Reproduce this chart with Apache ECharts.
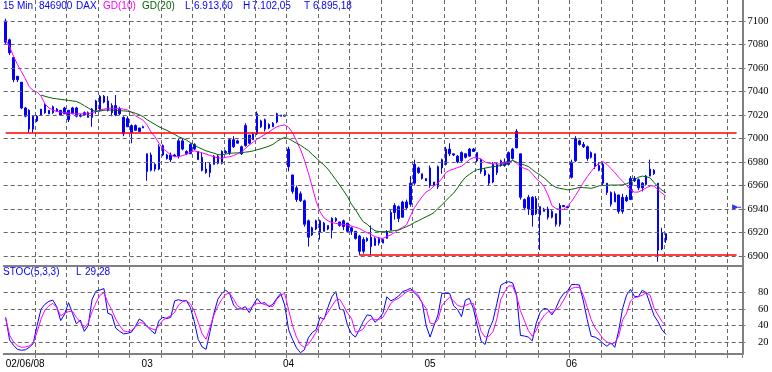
<!DOCTYPE html>
<html>
<head>
<meta charset="utf-8">
<script src="https://cdn.jsdelivr.net/npm/echarts@6/dist/echarts.min.js"></script>
<style>
html,body{margin:0;padding:0;background:#fff;}
#chart{width:772px;height:372px;}
</style>
</head>
<body>
<div id="chart"></div>
<script>
// ---- data ----
const slotCount = 188; // 15-min slots shown on the time axis (incl. empty space at right)
const dayStartIndex = [0, 36, 72, 108, 144];
const dayLabels = ['02/06/08', '03', '04', '05', '06'];

const openVals = [7100,7084,7069,7050,7048,7026,7024,7008,7019,7020,
7022,7024,7022,7025,7024,7021,7024,7021,7026,7020,
7020,7022,7018,7024,7024,7036,7032,7022,7028,7021,
7018,7010,7011,7007,7009,7009,6987,6973,6978,6974,
6994,6986,6982,6986,6985,6998,6989,6987,6995,6989,
6984,6974,6971,6978,6985,6979,6989,6988,6999,6996,
6993,6994,7003,6999,7004,7015,7008,7012,7010,7014,
7019,7020,6991,6969,6958,6947,6947,6930,6918,6923,
6930,6921,6926,6922,6932,6929,6925,6928,6921,6921,
6917,6904,6913,6916,6909,6915,6911,6915,6922,6937,
6942,6933,6946,6944,6962,6975,6970,6966,6960,6963,
6959,6975,6978,6991,6987,6985,6981,6987,6985,6991,
6988,6982,6973,6969,6963,6978,6977,6980,6978,6983,
6992,6987,6948,6940,6950,6936,6942,6938,6940,6933,
6936,6927,6942,6942,6967,6981,6998,6995,6993,6984,
6987,6977,6978,6962,6954,6946,6952,6938,6950,6948,
6966,6965,6958,6961,6968,6970,6962,6906,6919];

const closeVals = [7082,7073,7050,7053,7026,7019,7008,7019,7015,7025,
7029,7021,7027,7023,7020,7026,7016,7026,7019,7019,
7022,7018,7025,7032,7036,7031,7024,7028,7020,7025,
7004,7017,7005,7011,7006,7010,6972,6986,6974,6993,
6986,6983,6986,6985,6998,6991,6987,6995,6991,6982,
6973,6971,6978,6985,6979,6989,6988,6999,6993,6998,
6987,7011,6996,7004,7021,7010,7016,7009,7013,7021,
7020,7019,6976,6955,6948,6953,6927,6916,6924,6930,
6920,6928,6923,6932,6930,6926,6930,6921,6924,6915,
6904,6914,6915,6908,6915,6911,6914,6921,6937,6943,
6932,6946,6941,6962,6978,6971,6966,6964,6975,6960,
6976,6982,6991,6987,6986,6980,6988,6984,6991,6989,
6981,6972,6969,6962,6978,6971,6981,6977,6988,6991,
7006,6950,6941,6950,6935,6949,6935,6940,6933,6938,
6927,6943,6943,6941,6980,7000,6995,6993,6983,6988,
6976,6973,6962,6954,6944,6953,6938,6950,6947,6966,
6964,6958,6962,6968,6974,6973,6905,6920,6913.6];

const lowVals = [7080,7071,7048,7048,7025,7018,7005,7005,7014,7020,
7021,7021,7021,7023,7020,7021,7014,7021,7018,7018,
7020,7018,7010,7021,7023,7030,7023,7019,7019,7020,
7002,7010,6996,7007,7006,7009,6964,6972,6972,6973,
6985,6982,6980,6985,6983,6990,6986,6987,6990,6982,
6972,6970,6967,6978,6978,6978,6987,6986,6992,6996,
6986,6993,6995,6999,7003,7009,7006,7008,7010,7013,
7019,7019,6972,6953,6946,6946,6925,6908,6917,6922,
6914,6921,6922,6915,6929,6925,6922,6920,6918,6914,
6901,6902,6912,6901,6909,6909,6911,6915,6922,6931,
6929,6933,6939,6942,6960,6970,6965,6964,6958,6959,
6957,6970,6977,6985,6985,6979,6980,6983,6985,6989,
6980,6970,6968,6960,6962,6969,6976,6976,6977,6982,
6992,6948,6939,6935,6925,6935,6905,6938,6931,6932,
6925,6925,6942,6941,6966,6980,6994,6992,6981,6983,
6974,6972,6960,6952,6942,6946,6936,6936,6946,6948,
6963,6956,6955,6960,6968,6969,6895.18,6905,6911];

const highVals = [7102.05,7085,7069,7053,7048,7027,7025,7020,7020,7025,
7030,7024,7028,7026,7024,7027,7024,7027,7027,7021,
7023,7023,7026,7033,7037,7037,7036,7030,7037,7027,
7019,7019,7012,7012,7009,7011,6987,6988,6979,6995,
6995,6987,6988,6987,7000,7000,6990,6996,6996,6989,
6988,6980,6980,6986,6986,6990,6990,7000,7002,6999,
6994,7013,7003,7005,7023,7016,7017,7013,7014,7022,
7020,7020,6993,6969,6960,6955,6948,6931,6925,6931,
6931,6929,6926,6933,6933,6929,6931,6928,6925,6921,
6918,6916,6916,6926,6916,6916,6915,6922,6939,6945,
6943,6947,6948,6968,6982,6976,6970,6966,6977,6963,
6977,6983,6993,6996,6987,6986,6989,6987,6992,6992,
6988,6983,6975,6970,6980,6980,6982,6983,6989,6992,
7008,6987,6949,6952,6951,6951,6942,6941,6942,6939,
6936,6945,6943,6942,6982,7002,6999,6997,6994,6989,
6987,6980,6980,6962,6955,6955,6952,6953,6952,6968,
6968,6966,6963,6969,6982,6974,6962,6924,6919];

const gd10 = [7084,7078,7070,7063,7057,7051,7044,7041,7039.5,7036,
7029.5,7026,7024.3,7023,7022.5,7022,7021.7,7021.3,7021,7021,
7021,7021,7022,7023,7024.3,7025,7025.7,7025.7,7025.7,7025.7,
7025,7024.3,7022.5,7019.5,7017.5,7015.5,7011.5,7005.5,7001.5,6996,
6991.5,6988.8,6986,6984.5,6984.5,6985.5,6986.5,6988.5,6989.4,6988.8,
6987.8,6986.8,6985.5,6984.5,6983.5,6983.2,6984,6984.5,6985.5,6987,
6988.5,6991.5,6994.5,6997,6999.5,7001.5,7003.5,7005.5,7008,7010,
7011,7011.5,7009.5,7005,6998,6991,6982,6971,6959,6946.5,
6937.7,6932.5,6930,6928.5,6927.8,6927.2,6926.8,6926.4,6925.5,6924.5,
6923.5,6921.5,6919.8,6918.3,6916.5,6915.5,6915,6916.5,6918,6920,
6922.5,6924.5,6926.4,6934,6941,6946,6950.5,6954.5,6956.5,6959.5,
6962,6966,6971,6973,6974,6975.3,6976.3,6979,6982,6983.7,
6983.6,6982.6,6980,6979,6978.5,6978.3,6978.5,6979,6980,6981.5,
6979,6976,6974.5,6973.5,6970,6966,6963,6959,6952,6943,
6940.5,6939.7,6939.7,6942.5,6946.5,6951.5,6957,6962.5,6967.5,6972,
6976,6978.9,6980.3,6978,6974.5,6971,6967,6963.5,6960,6956.5,
6954.3,6954.5,6956,6958,6959.6,6959.6,6956.5,6953.5,6951];

const gd20 = [null,null,null,null,null,null,null,null,null,7037,
7036,7035,7034.2,7033.8,7033.3,7032.9,7032.5,7032,7031.5,7030,
7028,7026,7024,7023,7023.4,7024,7024.3,7024.2,7024,7023.8,
7023.5,7023.2,7022.5,7021.5,7020.3,7018.5,7016,7014,7012,7010,
7008.5,7007,7005.2,7003.5,7001.5,7000.2,6998.7,6996.5,6994.5,6992.5,
6991,6989.5,6988.5,6987.5,6986.3,6986.2,6986.8,6987.4,6987.6,6987.8,
6988,6988.4,6988.8,6989.5,6990.5,6991.3,6992.4,6993.5,6995,6997.5,
6999.5,7001,6999.8,6998,6996,6994.3,6992,6989.8,6986.5,6983.5,
6980.3,6977.5,6974,6969.5,6965,6960.4,6955.5,6950.5,6944,6939.5,
6934,6929.2,6927,6923.8,6921.5,6920.7,6920.7,6920.8,6921.2,6921.7,
6922.1,6923.5,6925,6926.5,6928.5,6930,6931.8,6933.4,6935,6937,
6940.5,6943.5,6947,6950.5,6953.5,6958,6963,6967,6969.5,6971.8,
6973.5,6974.2,6974.8,6975.5,6976,6976.4,6977,6978,6979.5,6981.3,
6980,6978.5,6977.5,6976.2,6973.5,6971,6969,6966.5,6963.5,6960.5,
6958.5,6957.6,6957,6956.3,6956.8,6957.5,6958.4,6958.2,6958,6957.6,
6958.5,6959.8,6960,6960.2,6960.4,6960.4,6960.4,6960.6,6961.5,6963,
6965,6967,6968,6967.5,6966.5,6962.5,6959,6956,6954];

const stochK = [50,22.5,16,11,10,10.5,13.5,18,40,60,
66,69.5,71,63,46,54,67.9,55,42,46.8,
33,40,72,82,83.3,85,55,53,37,33,
30,30.5,32,39,48,45,39,34,30,46,
50,48.5,50,70,71.5,70,70.5,62,45,23,
14,11.1,32.6,55,72,79.2,83,79,65,60,
60.5,63,55.7,65,73,67,67.9,63,66,73.1,
79,65,35,23,13,7,10.5,25,31.5,35,
50,47.5,62,75,81.3,60,59,40,30,26,
35,45,53,52,44,48.5,55,75,70,72.5,
76,81.3,83,85.3,80,75,68,40,26,40,
52.9,79.2,79.2,79.2,64,59.5,50.8,71,73.1,61,
40,21,17,35,46,67,89,92,93.4,92,
78,28,27.3,26,21.5,42.7,56,61,59.8,53,
61,72,79,82,90,90,89.4,70,47,27,
26,23,18.4,14.8,19,13.5,34,61,77,84.1,
75.5,75.2,83,80,66,52,44.8,35,29.28];

const stochD = [48.8,28.5,20,15.5,13.5,14,15.2,19,32,48,
59,64,67,62,52,55,57,57.5,50,44,
37,43,57,68,77,80,68,59,48,40,
33.5,32.5,33.8,38,43.5,43,38.7,36.5,34.6,40,
46.5,49.5,52,56,65,69,70.3,66.5,58,44,
30,23.3,38,53,63.5,72,78,79.5,72,64,
61,59.5,60.5,64,67,67,65.5,64,63.2,72,
77,79.2,59,40,26,17,13.5,17,24,32,
40.7,49,56,63.5,71,72,64,55,48.8,32,
33,36,44,48,47,47.5,50,58,67,71,
73.1,77,81,83,82,77.5,67,61,43,42,
47,64,70,74.4,70,64.5,63,64.5,66.5,67,
49,33,26,27,32.6,48,72,81,88.2,88.2,
76,58,46,34,27,34,45,52,57,56,
59,63,71,80,85.3,86.5,86.5,77,62,47,
37,31,24,20,17.6,19,27,47,55,70,
74,75,77,80,77,61,53,45,40];

const priceTicks = [6900,6920,6940,6960,6980,7000,7020,7040,7060,7080,7100];
const stochTicks = [20,40,60,80];
const resistanceLevel = 7005.3;   // upper red line
const supportLevel = 6901.4;      // lower red line
const supportStart = 90;          // bar where the support line begins
const lineEnd = 186;
const markerPoint = [186, 6941.5];

// ---- build ----
const categories = Array.from({length: slotCount}, (_, i) => String(i));
const candles = openVals.map((o, i) => [o, closeVals[i], lowVals[i], highVals[i]]);

const GRAY = '#808080';
const GRID = '#666666';
const DASH = [4, 3];
const gridEvery = 8;
const vSplit = (idx) => idx > 0 && idx % gridEvery === 0;
const plain = (v) => String(v);

const chart = echarts.init(document.getElementById('chart'), null, {renderer: 'canvas'});

const hdrFont = '10px "Liberation Sans", Arial, sans-serif';
function hdr(x, y, text, fill) {
  return {type: 'text', x: x, y: y, silent: true,
    style: {text: text, fill: fill, font: hdrFont, verticalAlign: 'middle', textVerticalAlign: 'middle'}};
}
const axisFont = '"Liberation Serif", "Times New Roman", serif';

const option = {
  animation: false,
  backgroundColor: '#ffffff',
  grid: [
    {left: 3.7, right: 29.5, top: 0, height: 266},
    {left: 3.7, right: 29.5, top: 266, height: 88}
  ],
  xAxis: [
    {
      type: 'category', gridIndex: 0, data: categories, boundaryGap: true,
      axisLine: {show: true, onZero: false, lineStyle: {color: GRAY, width: 2}},
      axisTick: {show: false}, axisLabel: {show: false},
      splitLine: {show: true, interval: vSplit, lineStyle: {color: GRID, type: DASH, width: 1}}
    },
    {
      type: 'category', gridIndex: 1, data: categories, boundaryGap: true,
      axisLine: {show: true, onZero: false, lineStyle: {color: GRAY, width: 2}},
      axisTick: {show: true, interval: vSplit, length: 4, inside: false, lineStyle: {color: GRAY, width: 1}},
      axisLabel: {
        show: true,
        interval: (idx) => dayStartIndex.indexOf(idx) >= 0,
        formatter: (val, idx) => {
          const k = dayStartIndex.indexOf(Number(val));
          return k >= 0 ? dayLabels[k] : '';
        },
        alignMinLabel: 'left',
        color: '#000', fontSize: 10, fontFamily: '"Liberation Sans", Arial, sans-serif', margin: 5
      },
      splitLine: {show: true, interval: vSplit, lineStyle: {color: GRID, type: DASH, width: 1}}
    }
  ],
  yAxis: [
    {
      type: 'value', gridIndex: 0, position: 'right', min: 6891.5, max: 7117.9, scale: true,
      axisLine: {show: true, lineStyle: {color: GRAY, width: 2}},
      axisTick: {show: true, customValues: priceTicks, length: 3, lineStyle: {color: GRAY}},
      axisLabel: {customValues: priceTicks, formatter: plain, align: 'right', margin: 26, color: '#000',
        fontSize: 10.5, fontFamily: axisFont},
      splitLine: {show: false}
    },
    {
      type: 'value', gridIndex: 1, position: 'right', min: 5.4, max: 112.5,
      axisLine: {show: true, lineStyle: {color: GRAY, width: 2}},
      axisTick: {show: true, customValues: stochTicks, length: 3, lineStyle: {color: GRAY}},
      axisLabel: {customValues: stochTicks, formatter: plain, align: 'right', margin: 26, color: '#000',
        fontSize: 10.5, fontFamily: axisFont},
      splitLine: {show: false}
    }
  ],
  series: [
    {
      name: 'grid-main', type: 'line', xAxisIndex: 0, yAxisIndex: 0, data: [], z: 1, silent: true,
      markLine: {silent: true, symbol: 'none', label: {show: false},
        lineStyle: {color: GRID, type: DASH, width: 1},
        data: priceTicks.map(v => ({yAxis: v}))}
    },
    {
      name: 'DAX', type: 'candlestick', xAxisIndex: 0, yAxisIndex: 0, data: candles,
      barWidth: 2,
      itemStyle: {color: '#0000ff', color0: '#0000ff', borderColor: '#0000ff', borderColor0: '#0000ff', borderWidth: 1},
      markLine: {
        silent: true, symbol: 'none', label: {show: false},
        lineStyle: {color: '#ff0000', type: 'solid', width: 1.5},
        data: [
          [{coord: [0, resistanceLevel]}, {coord: [lineEnd, resistanceLevel]}],
          [{coord: [supportStart, supportLevel]}, {coord: [lineEnd, supportLevel]}]
        ]
      }
    },
    {
      name: 'GD(10)', type: 'line', xAxisIndex: 0, yAxisIndex: 0, data: gd10,
      showSymbol: false, symbol: 'none', lineStyle: {color: '#ff00ff', width: 1}
    },
    {
      name: 'GD(20)', type: 'line', xAxisIndex: 0, yAxisIndex: 0, data: gd20,
      showSymbol: false, symbol: 'none', connectNulls: false, lineStyle: {color: '#006400', width: 1}
    },
    {
      name: 'marker', type: 'scatter', xAxisIndex: 0, yAxisIndex: 0, data: [markerPoint],
      symbol: 'path://M0,0L5,2.6L5,3L9,3L9,4L5,4L5,4.4L0,7Z', symbolSize: [9, 6],
      itemStyle: {color: '#0000ff'}, silent: true
    },
    {
      name: 'grid-stoch', type: 'line', xAxisIndex: 1, yAxisIndex: 1, data: [], z: 1, silent: true,
      markLine: {silent: true, symbol: 'none', label: {show: false},
        lineStyle: {color: GRID, type: DASH, width: 1},
        data: stochTicks.map(v => ({yAxis: v}))}
    },
    {
      name: '%K', type: 'line', xAxisIndex: 1, yAxisIndex: 1, data: stochK,
      showSymbol: false, symbol: 'none', lineStyle: {color: '#0000ff', width: 1}
    },
    {
      name: '%D', type: 'line', xAxisIndex: 1, yAxisIndex: 1, data: stochD,
      showSymbol: false, symbol: 'none', lineStyle: {color: '#ff00ff', width: 1}
    }
  ],
  graphic: [
    hdr(3, 6.5, '15 Min', '#0000ff'),
    hdr(39, 6.5, '846900', '#0000ff'),
    hdr(76, 6.5, 'DAX', '#0000ff'),
    hdr(103, 6.5, 'GD(10)', '#ff00ff'),
    hdr(142, 6.5, 'GD(20)', '#006400'),
    hdr(185, 6.5, 'L', '#0000ff'),
    hdr(194, 6.5, '6.913,60', '#0000ff'),
    hdr(243, 6.5, 'H', '#0000ff'),
    hdr(252, 6.5, '7.102,05', '#0000ff'),
    hdr(304, 6.5, 'T', '#0000ff'),
    hdr(313, 6.5, '6.895,18', '#0000ff'),
    hdr(3, 272.5, 'STOC(5,3,3)', '#0000ff'),
    hdr(76, 272.5, 'L', '#0000ff'),
    hdr(85, 272.5, '29,28', '#0000ff')
  ]
};
chart.setOption(option);
</script>
</body>
</html>
